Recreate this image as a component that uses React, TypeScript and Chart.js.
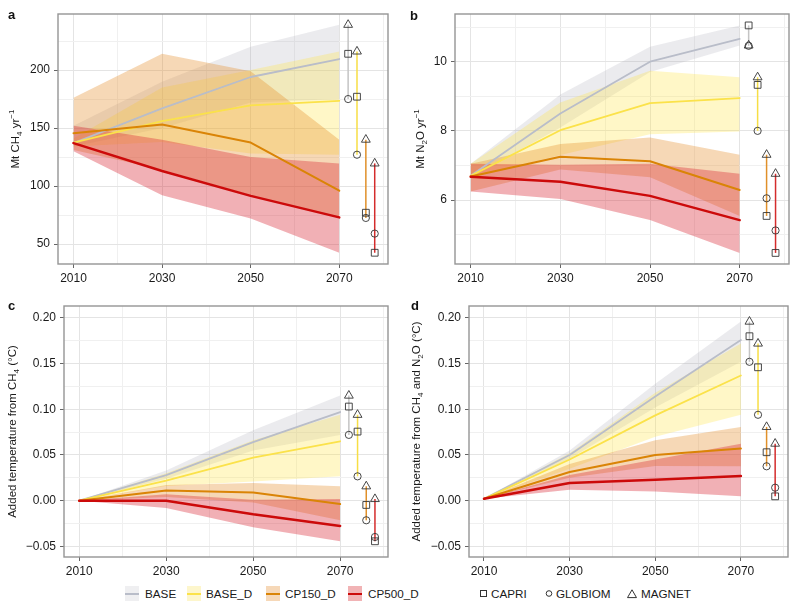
import React, { useEffect, useRef } from "react";
import { Chart, registerables } from "chart.js";

Chart.register(...registerables);

const FONT = '"Liberation Sans", Arial, Helvetica, sans-serif';
Chart.defaults.font.family = FONT;

// ---------- shared categories ----------
const YEARS = [2010, 2030, 2050, 2070];
const SCENARIOS = ["BASE", "BASE_D", "CP150_D", "CP500_D"];
const MODELS = ["CAPRI", "GLOBIOM", "MAGNET"];
const MODEL_X = [2072, 2074, 2076, 2078];
const X_GRID = [2010, 2020, 2030, 2040, 2050, 2060, 2070, 2080];
const X_LABELS = [2010, 2030, 2050, 2070];

// ---------- a: CH4 emissions (Mt CH4 / yr) ----------
const ch4Mean = [
  [137, 167, 194, 209.5],
  [137.5, 156, 169.5, 173.5],
  [145.5, 153, 137.5, 96],
  [137, 113, 91.5, 73],
];
const ch4Low = [
  [134, 150, 172, 175],
  [134, 138, 128, 127],
  [131, 114, 92, 72.5],
  [130, 92, 72, 42.5],
];
const ch4High = [
  [152, 190, 220, 239],
  [141, 185, 200, 216],
  [176, 214, 199, 140],
  [152, 140, 125, 119.5],
];
const ch4Models = [
  [214, 175, 239],
  [177, 127, 216],
  [77, 72.5, 140],
  [42.5, 59, 119.5],
];
const ch4Grid = [50, 75, 100, 125, 150, 175, 200, 225];
const ch4Labels = [50, 100, 150, 200];

// ---------- b: N2O emissions (Mt N2O / yr) ----------
const n2oMean = [
  [6.7, 8.5, 10.0, 10.66],
  [6.7, 8.02, 8.8, 8.95],
  [6.68, 7.25, 7.12, 6.29],
  [6.67, 6.53, 6.12, 5.42],
];
const n2oLow = [
  [6.65, 8.1, 9.7, 10.47],
  [6.65, 7.3, 7.9, 7.98],
  [6.25, 6.88, 6.66, 5.54],
  [6.25, 6.03, 5.42, 4.47],
];
const n2oHigh = [
  [7.05, 9.05, 10.43, 11.05],
  [7.05, 8.82, 9.74, 9.55],
  [7.05, 7.62, 7.81, 7.31],
  [7.05, 7.02, 7.05, 6.76],
];
const n2oModels = [
  [11.05, 10.46, 10.47],
  [9.33, 8.0, 9.55],
  [5.54, 6.05, 7.31],
  [4.47, 5.12, 6.76],
];
const n2oGrid = [5, 6, 7, 8, 9, 10, 11];
const n2oLabels = [6, 8, 10];

// ---------- c: added temperature from CH4 (°C) ----------
const tCh4Mean = [
  [0, 0.028, 0.064, 0.097],
  [0, 0.022, 0.047, 0.065],
  [0, 0.011, 0.009, -0.0037],
  [0, 0, -0.015, -0.0277],
];
const tCh4Low = [
  [0, 0.024, 0.055, 0.072],
  [0, 0.016, 0.021, 0.0266],
  [0, 0.004, -0.002, -0.0215],
  [0, -0.008, -0.029, -0.0445],
];
const tCh4High = [
  [0, 0.033, 0.077, 0.115],
  [0, 0.03, 0.066, 0.094],
  [0, 0.017, 0.0193, 0.0157],
  [0, 0.007, 0.001, 0.0018],
];
const tCh4Models = [
  [0.103, 0.072, 0.115],
  [0.0756, 0.0266, 0.094],
  [-0.0047, -0.0215, 0.0157],
  [-0.0445, -0.0398, 0.0018],
];

// ---------- d: added temperature from CH4 and N2O (°C) ----------
const tAllMean = [
  [0.002, 0.05, 0.114, 0.176],
  [0.002, 0.045, 0.0934, 0.137],
  [0.002, 0.0314, 0.05, 0.057],
  [0.002, 0.0193, 0.023, 0.027],
];
const tAllLow = [
  [0.002, 0.046, 0.102, 0.152],
  [0.002, 0.035, 0.07, 0.094],
  [0.002, 0.025, 0.038, 0.0376],
  [0.002, 0.012, 0.01, 0.0047],
];
const tAllHigh = [
  [0.002, 0.055, 0.128, 0.196],
  [0.002, 0.052, 0.118, 0.172],
  [0.002, 0.04, 0.066, 0.0807],
  [0.002, 0.028, 0.045, 0.0624],
];
const tAllModels = [
  [0.18, 0.152, 0.196],
  [0.146, 0.094, 0.172],
  [0.053, 0.0376, 0.0807],
  [0.0047, 0.0142, 0.0624],
];
const tempGrid = [-0.05, -0.025, 0, 0.025, 0.05, 0.075, 0.1, 0.125, 0.15, 0.175, 0.2];
const tempLabels = [-0.05, 0, 0.05, 0.1, 0.15, 0.2];

// ---------- styles ----------
const LINE_COLORS = ["#b9bdc9", "#fbe24a", "#da8406", "#cc0a0a"];
const LINE_WIDTHS = [1.8, 1.8, 2, 2.5];
const BAND_COLORS = [
  "rgba(170,170,185,0.24)",
  "rgba(255,228,70,0.3)",
  "rgba(228,140,40,0.34)",
  "rgba(218,40,55,0.37)",
];
const RANGE_COLORS = ["#c4c4c4", "#f7de45", "#e0902a", "#d42c2c"];
const KEY_BG = ["#efeff1", "#fdf6cc", "#f6d8b8", "#f1b3b5"];
const POINT_STYLES = ["rect", "circle", "triangle"];
const POINT_RADII = [4.8, 3.6, 5.1];

type Seg = [string, string?];

interface Panel {
  letter: string;
  mean: number[][];
  low: number[][];
  high: number[][];
  models: number[][];
  grid: number[];
  labels: number[];
  fmt: (v: number) => string;
  yMin: number;
  yMax: number;
  title: Seg[];
  L: number;
  T: number;
  R: number;
  H: number;
  titleX: number;
  letterX: number;
  letterY: number;
  left: number;
  top: number;
}

const fmtInt = (v: number) => String(v);
const fmtTemp = (v: number) => v.toFixed(2).replace("-", "\u2212");

const PANELS: Panel[] = [
  {
    letter: "a", mean: ch4Mean, low: ch4Low, high: ch4High, models: ch4Models,
    grid: ch4Grid, labels: ch4Labels, fmt: fmtInt, yMin: 32.8, yMax: 248.3,
    title: [["Mt CH"], ["4", "sub"], [" yr"], ["\u22121", "sup"]],
    L: 58, T: 14, R: 12, H: 26, titleX: 16, letterX: 8, letterY: 15, left: 0, top: 0,
  },
  {
    letter: "b", mean: n2oMean, low: n2oLow, high: n2oHigh, models: n2oModels,
    grid: n2oGrid, labels: n2oLabels, fmt: fmtInt, yMin: 4.15, yMax: 11.38,
    title: [["Mt N"], ["2", "sub"], ["O yr"], ["\u22121", "sup"]],
    L: 55, T: 14, R: 11, H: 26, titleX: 21, letterX: 10, letterY: 16, left: 400, top: 0,
  },
  {
    letter: "c", mean: tCh4Mean, low: tCh4Low, high: tCh4High, models: tCh4Models,
    grid: tempGrid, labels: tempLabels, fmt: fmtTemp, yMin: -0.0617, yMax: 0.2131,
    title: [["Added temperature from CH"], ["4", "sub"], [" (\u00b0C)"]],
    L: 64, T: 16, R: 12, H: 23, titleX: 13, letterX: 8, letterY: 16, left: 0, top: 290,
  },
  {
    letter: "d", mean: tAllMean, low: tAllLow, high: tAllHigh, models: tAllModels,
    grid: tempGrid, labels: tempLabels, fmt: fmtTemp, yMin: -0.0617, yMax: 0.2131,
    title: [["Added temperature from CH"], ["4", "sub"], [" and N"], ["2", "sub"], ["O (\u00b0C)"]],
    L: 69, T: 16, R: 12, H: 23, titleX: 17, letterX: 11, letterY: 16, left: 400, top: 290,
  },
];

const isIn = (arr: number[], v: number) => arr.some((a) => Math.abs(a - v) < 1e-9);

function drawRich(ctx: CanvasRenderingContext2D, segs: Seg[], cx: number, cy: number, size: number) {
  ctx.save();
  ctx.translate(cx, cy);
  ctx.rotate(-Math.PI / 2);
  ctx.fillStyle = "#1a1a1a";
  ctx.textBaseline = "middle";
  ctx.textAlign = "left";
  const main = `${size}px ${FONT}`;
  const small = `${Math.round(size * 0.7)}px ${FONT}`;
  const widths = segs.map(([t, k]) => {
    ctx.font = k ? small : main;
    return ctx.measureText(t).width;
  });
  const total = widths.reduce((a, b) => a + b, 0);
  let x = -total / 2;
  segs.forEach(([t, k], i) => {
    ctx.font = k ? small : main;
    const dy = k === "sub" ? size * 0.32 : k === "sup" ? -size * 0.36 : 0;
    ctx.fillText(t, x, dy);
    x += widths[i];
  });
  ctx.restore();
}

function buildConfig(p: Panel): any {
  const datasets: any[] = [];
  const bandOrder = [100, 90, 80, 70];
  const lineOrder = [50, 40, 30, 20];
  SCENARIOS.forEach((s, i) => {
    datasets.push({
      label: s + " low",
      data: YEARS.map((x, k) => ({ x, y: p.low[i][k] })),
      borderWidth: 0, pointRadius: 0, fill: false, order: bandOrder[i],
      borderColor: "rgba(0,0,0,0)",
    });
    datasets.push({
      label: s + " high",
      data: YEARS.map((x, k) => ({ x, y: p.high[i][k] })),
      borderWidth: 0, pointRadius: 0, fill: "-1", backgroundColor: BAND_COLORS[i],
      borderColor: "rgba(0,0,0,0)", order: bandOrder[i],
    });
  });
  SCENARIOS.forEach((s, i) => {
    datasets.push({
      label: s,
      data: YEARS.map((x, k) => ({ x, y: p.mean[i][k] })),
      borderColor: LINE_COLORS[i], borderWidth: LINE_WIDTHS[i], pointRadius: 0,
      fill: false, order: lineOrder[i], borderJoinStyle: "round", borderCapStyle: "round",
    });
  });
  SCENARIOS.forEach((s, i) => {
    datasets.push({
      label: s + " range",
      data: [
        { x: MODEL_X[i], y: Math.min(...p.models[i]) },
        { x: MODEL_X[i], y: Math.max(...p.models[i]) },
      ],
      borderColor: RANGE_COLORS[i], borderWidth: 1.5, pointRadius: 0, fill: false, order: 10,
    });
  });
  MODELS.forEach((m, j) => {
    datasets.push({
      label: m,
      data: SCENARIOS.map((s, i) => ({ x: MODEL_X[i], y: p.models[i][j] })),
      showLine: false, fill: false,
      pointStyle: POINT_STYLES[j], pointRadius: POINT_RADII[j],
      pointBorderColor: "#333", pointBackgroundColor: "rgba(0,0,0,0)", pointBorderWidth: 0.9,
      order: 0,
    });
  });

  const framePlugin = {
    id: "frame" + p.letter,
    afterDraw(chart: any) {
      const ctx = chart.ctx as CanvasRenderingContext2D;
      const a = chart.chartArea;
      ctx.save();
      ctx.strokeStyle = "#959595";
      ctx.lineWidth = 1.4;
      ctx.strokeRect(a.left, a.top, a.right - a.left, a.bottom - a.top);
      ctx.fillStyle = "#111";
      ctx.font = `bold 13px ${FONT}`;
      ctx.textBaseline = "middle";
      ctx.textAlign = "left";
      ctx.fillText(p.letter, p.letterX, p.letterY);
      ctx.restore();
      drawRich(ctx, p.title, p.titleX, (a.top + a.bottom) / 2, 11.5);
    },
  };

  const gridColor = (ctx: any) => (ctx.tick && ctx.tick.isMajor ? "#e4e4e4" : "#f0f0f0");
  const tickColor = (ctx: any) => (ctx.tick && ctx.tick.isMajor ? "#666" : "rgba(0,0,0,0)");

  return {
    type: "line",
    data: { datasets },
    options: {
      animation: false,
      responsive: false,
      devicePixelRatio: 1,
      events: [],
      layout: { padding: { left: 0, top: p.T, right: p.R, bottom: 0 } },
      plugins: { legend: { display: false }, tooltip: { enabled: false } },
      scales: {
        x: {
          type: "linear",
          min: 2006.5,
          max: 2081,
          afterBuildTicks: (s: any) => {
            s.ticks = X_GRID.map((v) => ({ value: v, isMajor: isIn(X_LABELS, v) }));
          },
          afterFit: (s: any) => { s.height = p.H; },
          ticks: {
            autoSkip: false, maxRotation: 0, minRotation: 0, padding: 3,
            color: "#1a1a1a", font: { size: 12, family: FONT },
            callback: (v: number, i: number, ticks: any[]) => (ticks[i] && ticks[i].isMajor ? String(v) : ""),
          },
          grid: { color: gridColor, tickColor, lineWidth: 1, tickLength: 4, drawTicks: true },
          border: { display: false },
        },
        y: {
          type: "linear",
          position: "left",
          min: p.yMin,
          max: p.yMax,
          afterBuildTicks: (s: any) => {
            s.ticks = p.grid.map((v) => ({ value: v, isMajor: isIn(p.labels, v) }));
          },
          afterFit: (s: any) => { s.width = p.L; },
          ticks: {
            autoSkip: false, padding: 4, color: "#1a1a1a", font: { size: 12, family: FONT },
            callback: (v: number, i: number, ticks: any[]) => (ticks[i] && ticks[i].isMajor ? p.fmt(v) : ""),
          },
          grid: { color: gridColor, tickColor, lineWidth: 1, tickLength: 4, drawTicks: true },
          border: { display: false },
        },
      },
    },
    plugins: [framePlugin],
  };
}

function PanelChart({ p }: { p: Panel }) {
  const ref = useRef<HTMLCanvasElement>(null);
  useEffect(() => {
    const chart = new Chart(ref.current as HTMLCanvasElement, buildConfig(p));
    return () => chart.destroy();
  }, [p]);
  return (
    <canvas
      ref={ref}
      width={400}
      height={290}
      style={{ position: "absolute", left: p.left, top: p.top, width: 400, height: 290, display: "block" }}
    />
  );
}

const LEGEND_KEY_X = [125, 187, 266, 348];
const LEGEND_TEXT_X = [145, 206, 285, 368];
const MODEL_SYM_X = [479, 545, 627];
const MODEL_TEXT_X = [491, 556, 641];

function ModelSymbol({ kind }: { kind: number }) {
  if (kind === 0) {
    return (
      <svg width="10" height="10" style={{ display: "block" }}>
        <rect x="1.5" y="1.5" width="6" height="6" fill="none" stroke="#333" strokeWidth="1" />
      </svg>
    );
  }
  if (kind === 1) {
    return (
      <svg width="10" height="10" style={{ display: "block" }}>
        <circle cx="4" cy="4.5" r="2.8" fill="none" stroke="#333" strokeWidth="1" />
      </svg>
    );
  }
  return (
    <svg width="11" height="10" style={{ display: "block" }}>
      <polygon points="5,0.8 9.5,8.6 0.5,8.6" fill="none" stroke="#333" strokeWidth="1" />
    </svg>
  );
}

export default function App() {
  const textStyle: React.CSSProperties = {
    position: "absolute",
    top: 586,
    height: 15,
    lineHeight: "15px",
    fontFamily: FONT,
    fontSize: 11.7,
    color: "#1a1a1a",
    whiteSpace: "nowrap",
  };
  return (
    <div style={{ position: "fixed", left: 0, top: 0, width: 800, height: 607, background: "#fff", overflow: "hidden" }}>
      {PANELS.map((p) => (
        <PanelChart key={p.letter} p={p} />
      ))}
      {SCENARIOS.map((s, i) => (
        <React.Fragment key={s}>
          <div
            style={{
              position: "absolute", left: LEGEND_KEY_X[i], top: 586, width: 14, height: 15,
              background: KEY_BG[i],
            }}
          >
            <div
              style={{
                position: "absolute", left: 0, top: 6.5, width: 14, height: 2,
                background: LINE_COLORS[i],
              }}
            />
          </div>
          <div style={{ ...textStyle, left: LEGEND_TEXT_X[i] }}>{s}</div>
        </React.Fragment>
      ))}
      {MODELS.map((m, j) => (
        <React.Fragment key={m}>
          <div style={{ position: "absolute", left: MODEL_SYM_X[j], top: 589 }}>
            <ModelSymbol kind={j} />
          </div>
          <div style={{ ...textStyle, left: MODEL_TEXT_X[j] }}>{m}</div>
        </React.Fragment>
      ))}
    </div>
  );
}
